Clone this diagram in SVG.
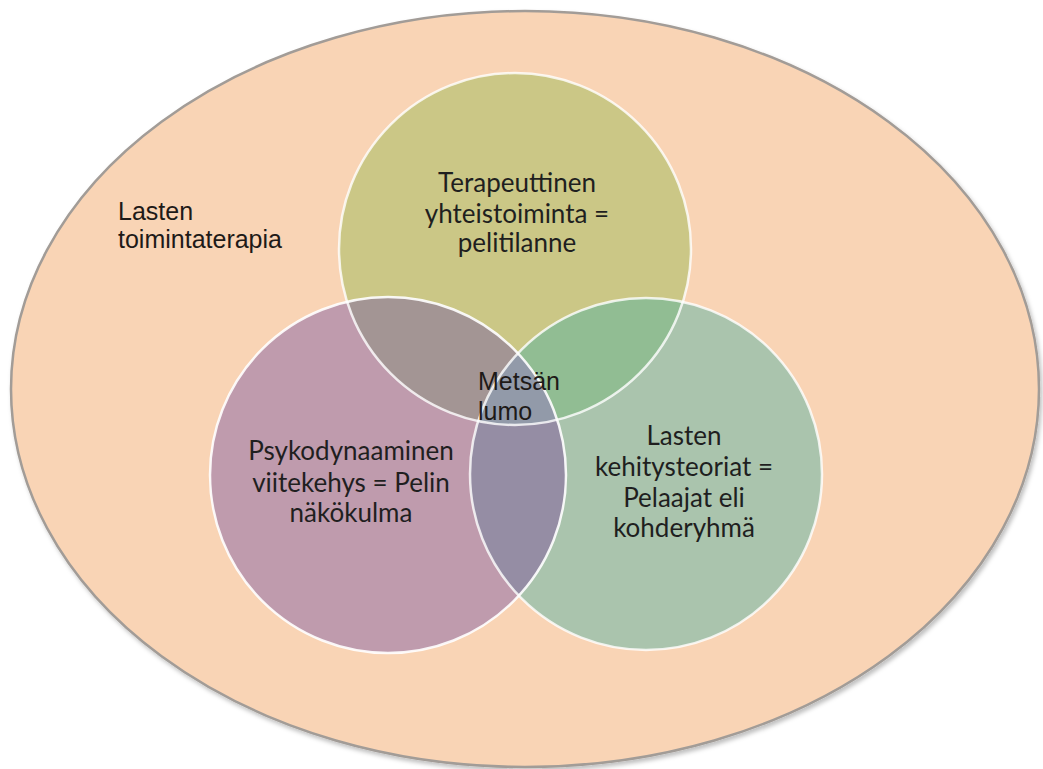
<svg xmlns="http://www.w3.org/2000/svg" width="1043" height="769" viewBox="0 0 1043 769">
<style>
.lbl{font-family:"Lato","Noto Sans",sans-serif;font-size:26px;fill:#1f1f1f;text-anchor:middle}
.arial{font-family:"Liberation Sans",Arial,sans-serif;font-size:25px;fill:#1e1a18}
.edge{fill:none;stroke:#ffffff;stroke-width:2.5}
</style>
<defs>
<filter id="sh" x="-5%" y="-5%" width="110%" height="110%">
<feDropShadow dx="2" dy="3" stdDeviation="2" flood-color="#000" flood-opacity="0.25"/>
</filter>
<clipPath id="cT"><circle cx="515" cy="249" r="176"/></clipPath>
<clipPath id="cL"><circle cx="388" cy="475" r="178"/></clipPath>
<clipPath id="cR"><circle cx="646" cy="474" r="176"/></clipPath>
</defs>
<rect width="1043" height="769" fill="#ffffff"/>
<g id="outer">
<ellipse cx="525" cy="389" rx="514" ry="378" fill="#F9D4B5" stroke="#A29C97" stroke-width="2.5" filter="url(#sh)"/>
<text class="arial" x="118" y="220">Lasten</text>
<text class="arial" x="118" y="248">toimintaterapia</text>
</g>
<g id="circle-top">
<circle cx="515" cy="249" r="176" fill="#CBC786"/>
</g>
<g id="circle-left">
<circle cx="388" cy="475" r="178" fill="#BF9BAD"/>
</g>
<g id="circle-right">
<circle cx="646" cy="474" r="176" fill="#AAC4AD"/>
</g>
<g id="overlaps">
<g clip-path="url(#cT)"><circle cx="388" cy="475" r="178" fill="#A39594"/></g>
<g clip-path="url(#cT)"><circle cx="646" cy="474" r="176" fill="#91BD93"/></g>
<g clip-path="url(#cL)"><circle cx="646" cy="474" r="176" fill="#958DA4"/></g>
<g clip-path="url(#cT)"><g clip-path="url(#cL)"><circle cx="646" cy="474" r="176" fill="#929AA9"/></g></g>
</g>
<g id="outlines">
<circle class="edge" cx="515" cy="249" r="176" stroke-opacity="0.8"/>
<circle class="edge" cx="646" cy="474" r="176" stroke-opacity="0.8"/>
<circle class="edge" cx="388" cy="475" r="178" stroke-opacity="0.9"/>
</g>
<g id="label-top">
<text class="lbl" x="517" y="192">Terapeuttinen</text>
<text class="lbl" x="517" y="223">yhteistoiminta =</text>
<text class="lbl" x="517" y="252">pelitilanne</text>
</g>
<g id="label-left">
<text class="lbl" x="351" y="460">Psykodynaaminen</text>
<text class="lbl" x="351" y="492">viitekehys = Pelin</text>
<text class="lbl" x="351" y="522">näkökulma</text>
</g>
<g id="label-right">
<text class="lbl" x="684" y="445">Lasten</text>
<text class="lbl" x="684" y="476">kehitysteoriat =</text>
<text class="lbl" x="684" y="507">Pelaajat eli</text>
<text class="lbl" x="684" y="537">kohderyhmä</text>
</g>
<g id="center">
<text class="arial" x="478" y="390">Metsän</text>
<text class="arial" x="478" y="420">lumo</text>
</g>
</svg>
